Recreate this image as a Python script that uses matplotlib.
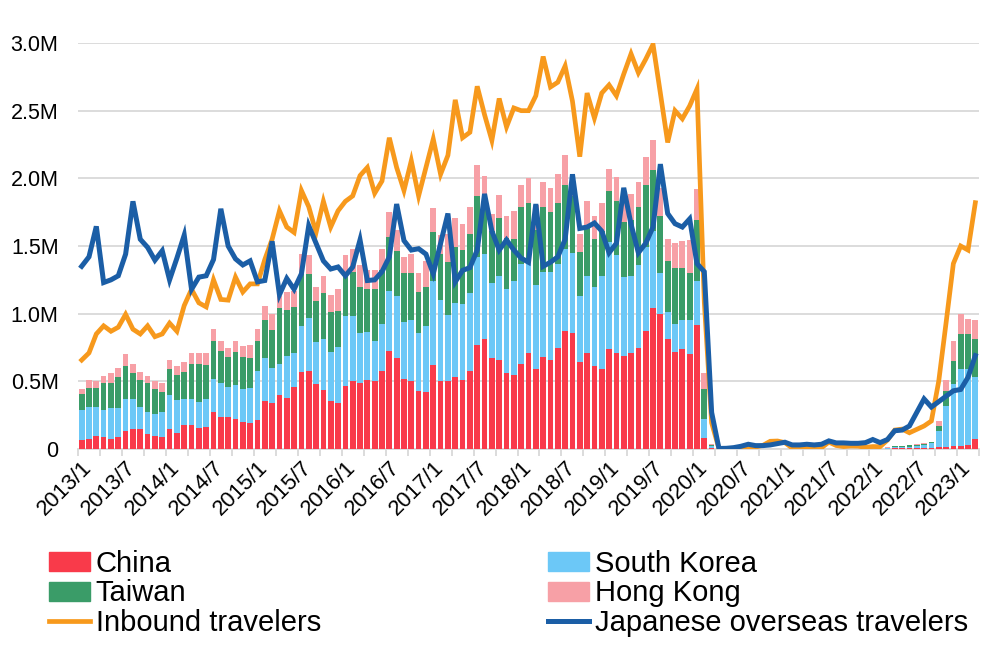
import matplotlib
matplotlib.use("Agg")
import matplotlib.pyplot as plt
from matplotlib.patches import Patch
from matplotlib.lines import Line2D
import numpy as np

plt.rcParams['font.family'] = ['Liberation Sans', 'DejaVu Sans']

# Monthly labels 2013/1 .. 2023/3
years = list(range(2013, 2024))
months = [f"{y}/{m}" for y in years for m in range(1, 13)][:123]

# Values in millions
china = [
    0.064, 0.074, 0.093, 0.088, 0.074, 0.088, 0.13, 0.15, 0.145, 0.11, 0.093, 0.088,
    0.147, 0.12, 0.174, 0.18, 0.154, 0.16, 0.27, 0.24, 0.235, 0.22, 0.20, 0.19,
    0.214, 0.354, 0.337, 0.40, 0.38, 0.46, 0.57, 0.58, 0.48, 0.435, 0.354, 0.34,
    0.464, 0.50, 0.49, 0.51, 0.50, 0.58, 0.725, 0.67, 0.52, 0.50, 0.43, 0.42,
    0.62, 0.50, 0.50, 0.53, 0.51, 0.58, 0.77, 0.81, 0.67, 0.66, 0.56, 0.55,
    0.63, 0.71, 0.59, 0.68, 0.66, 0.75, 0.87, 0.86, 0.64, 0.71, 0.61, 0.59,
    0.74, 0.71, 0.685, 0.71, 0.75, 0.87, 1.04, 0.995, 0.81, 0.72, 0.74, 0.70,
    0.915, 0.08, 0.005, 0.001, 0.001, 0.001, 0.001, 0.001, 0.001, 0.001, 0.001, 0.001,
    0.001, 0.001, 0.001, 0.001, 0.001, 0.001, 0.001, 0.001, 0.001, 0.001, 0.001, 0.001,
    0.001, 0.001, 0.002, 0.004, 0.005, 0.006, 0.007, 0.008, 0.01, 0.017, 0.017, 0.022,
    0.022, 0.03, 0.071,
]
south_korea = [
    0.226, 0.236, 0.217, 0.202, 0.226, 0.212, 0.24, 0.22, 0.165, 0.16, 0.167, 0.182,
    0.253, 0.24, 0.196, 0.19, 0.196, 0.21, 0.25, 0.25, 0.221, 0.25, 0.24, 0.26,
    0.366, 0.316, 0.263, 0.23, 0.31, 0.25, 0.34, 0.39, 0.31, 0.375, 0.366, 0.415,
    0.516, 0.48, 0.37, 0.355, 0.30, 0.34, 0.445, 0.46, 0.42, 0.45, 0.43, 0.49,
    0.625, 0.60, 0.49, 0.55, 0.56, 0.57, 0.65, 0.63, 0.56, 0.62, 0.62, 0.69,
    0.74, 0.665, 0.62, 0.63, 0.65, 0.62, 0.61, 0.59, 0.49, 0.57, 0.59, 0.685,
    0.79, 0.72, 0.585, 0.57, 0.61, 0.62, 0.57, 0.305, 0.20, 0.20, 0.21, 0.255,
    0.325, 0.14, 0.015, 0.001, 0.001, 0.001, 0.001, 0.001, 0.001, 0.001, 0.001, 0.001,
    0.001, 0.001, 0.001, 0.001, 0.001, 0.001, 0.001, 0.001, 0.001, 0.001, 0.001, 0.001,
    0.001, 0.001, 0.006, 0.012, 0.011, 0.012, 0.016, 0.024, 0.035, 0.118, 0.303, 0.458,
    0.568, 0.56, 0.459,
]
taiwan = [
    0.12, 0.14, 0.14, 0.20, 0.19, 0.23, 0.24, 0.19, 0.20, 0.215, 0.18, 0.15,
    0.19, 0.19, 0.20, 0.26, 0.28, 0.25, 0.28, 0.235, 0.224, 0.25, 0.24, 0.22,
    0.22, 0.28, 0.28, 0.41, 0.34, 0.34, 0.38, 0.32, 0.30, 0.34, 0.29, 0.265,
    0.295, 0.33, 0.34, 0.315, 0.38, 0.40, 0.40, 0.33, 0.36, 0.35, 0.30, 0.29,
    0.355, 0.34, 0.39, 0.41, 0.40, 0.435, 0.45, 0.42, 0.38, 0.425, 0.38, 0.31,
    0.42, 0.445, 0.41, 0.48, 0.44, 0.45, 0.47, 0.42, 0.325, 0.36, 0.35, 0.335,
    0.38, 0.405, 0.405, 0.41, 0.43, 0.46, 0.45, 0.42, 0.38, 0.42, 0.39, 0.345,
    0.45, 0.22, 0.01, 0.0005, 0.0005, 0.0005, 0.0005, 0.0005, 0.0005, 0.0005, 0.0005, 0.0005,
    0.0005, 0.0005, 0.0005, 0.0005, 0.0005, 0.0005, 0.0005, 0.0005, 0.0005, 0.0005, 0.0005, 0.0005,
    0.0005, 0.0005, 0.003, 0.006, 0.006, 0.008, 0.009, 0.006, 0.005, 0.035, 0.11, 0.17,
    0.26, 0.26, 0.28,
]
hong_kong = [
    0.03, 0.06, 0.05, 0.05, 0.07, 0.07, 0.09, 0.07, 0.06, 0.055, 0.06, 0.07,
    0.07, 0.065, 0.07, 0.08, 0.08, 0.09, 0.085, 0.075, 0.065, 0.08, 0.08, 0.10,
    0.085, 0.11, 0.12, 0.09, 0.13, 0.12, 0.15, 0.14, 0.11, 0.13, 0.13, 0.16,
    0.155, 0.17, 0.16, 0.14, 0.14, 0.16, 0.18, 0.16, 0.12, 0.14, 0.14, 0.19,
    0.18, 0.14, 0.21, 0.215, 0.19, 0.205, 0.23, 0.155, 0.13, 0.17, 0.16, 0.21,
    0.16, 0.18, 0.18, 0.18, 0.18, 0.21, 0.22, 0.16, 0.13, 0.19, 0.17, 0.21,
    0.16, 0.175, 0.185, 0.195, 0.18, 0.21, 0.225, 0.21, 0.16, 0.18, 0.20, 0.245,
    0.23, 0.12, 0.01, 0.0003, 0.0003, 0.0003, 0.0003, 0.0003, 0.0003, 0.0003, 0.0003, 0.0003,
    0.0003, 0.0003, 0.0003, 0.0003, 0.0003, 0.0003, 0.0003, 0.0003, 0.0003, 0.0003, 0.0003, 0.0003,
    0.0003, 0.0003, 0.001, 0.003, 0.003, 0.004, 0.005, 0.004, 0.004, 0.04, 0.08, 0.145,
    0.15, 0.11, 0.145,
]
inbound = [
    0.657, 0.71, 0.85, 0.91, 0.87, 0.90, 0.995, 0.885, 0.85, 0.91, 0.83, 0.85,
    0.93, 0.87, 1.06, 1.18, 1.08, 1.05, 1.25, 1.105, 1.10, 1.27, 1.16, 1.22,
    1.22, 1.40, 1.55, 1.76, 1.64, 1.60, 1.91, 1.79, 1.60, 1.83, 1.64, 1.76,
    1.83, 1.87, 2.02, 2.08, 1.89, 1.98, 2.30, 2.08, 1.91, 2.13, 1.87, 2.08,
    2.29, 2.03, 2.17, 2.58, 2.30, 2.34, 2.68, 2.47, 2.28, 2.59, 2.38, 2.52,
    2.50, 2.50, 2.61, 2.90, 2.675, 2.71, 2.83, 2.57, 2.16, 2.63, 2.445, 2.63,
    2.69, 2.61, 2.77, 2.92, 2.78, 2.88, 2.99, 2.63, 2.265, 2.50, 2.44, 2.535,
    2.66, 1.085, 0.194, 0.003, 0.002, 0.003, 0.004, 0.009, 0.014, 0.027, 0.057, 0.059,
    0.047, 0.007, 0.012, 0.011, 0.010, 0.009, 0.051, 0.026, 0.018, 0.022, 0.021, 0.012,
    0.018, 0.017, 0.066, 0.14, 0.147, 0.12, 0.145, 0.17, 0.207, 0.50, 0.93, 1.37,
    1.50, 1.47, 1.82,
]
overseas = [
    1.35, 1.42, 1.645, 1.23, 1.25, 1.28, 1.44, 1.83, 1.55, 1.49, 1.395, 1.465,
    1.25, 1.41, 1.58, 1.18, 1.27, 1.28, 1.40, 1.775, 1.50, 1.405, 1.36, 1.39,
    1.235, 1.245, 1.535, 1.14, 1.26, 1.18, 1.295, 1.65, 1.52, 1.39, 1.33, 1.345,
    1.28, 1.345, 1.545, 1.245, 1.25, 1.31, 1.42, 1.81, 1.54, 1.47, 1.48, 1.44,
    1.295, 1.52, 1.74, 1.235, 1.32, 1.34, 1.47, 1.885, 1.61, 1.47, 1.545, 1.47,
    1.41, 1.38, 1.81, 1.35, 1.38, 1.42, 1.55, 2.03, 1.63, 1.64, 1.67, 1.61,
    1.45, 1.52, 1.93, 1.66, 1.45, 1.52, 1.64, 2.105, 1.74, 1.665, 1.64, 1.70,
    1.37, 1.31, 0.27, 0.004, 0.005, 0.01, 0.02, 0.035, 0.025, 0.025, 0.03, 0.04,
    0.05, 0.03, 0.03, 0.035, 0.03, 0.035, 0.06, 0.045, 0.045, 0.042, 0.042, 0.047,
    0.07, 0.047, 0.07, 0.135, 0.14, 0.17, 0.27, 0.37, 0.31, 0.35, 0.39, 0.43,
    0.44, 0.53, 0.69,
]

series = [china, south_korea, taiwan, hong_kong, inbound, overseas]
assert all(len(s) == 123 for s in series), [len(s) for s in series]

col_china = '#F93A4A'
col_korea = '#6CC8F7'
col_taiwan = '#3A9C68'
col_hk = '#F7A0A6'
col_inbound = '#F7991C'
col_overseas = '#1B5EA6'

fig = plt.figure(figsize=(10.05, 6.5), dpi=100)
ax = fig.add_axes([78/1005, 1-449/650, (979-78)/1005, (449-43)/650])

x = np.arange(len(months))
c = np.array(china)
k = np.array(south_korea)
t = np.array(taiwan)
h = np.array(hong_kong)
w = 0.78
ax.bar(x, c, width=w, color=col_china, zorder=2)
ax.bar(x, k, width=w, bottom=c, color=col_korea, zorder=2)
ax.bar(x, t, width=w, bottom=c+k, color=col_taiwan, zorder=2)
ax.bar(x, h, width=w, bottom=c+k+t, color=col_hk, zorder=2)
ax.plot(x, inbound, color=col_inbound, lw=3.4, zorder=3, solid_joinstyle='miter')
ax.plot(x, overseas, color=col_overseas, lw=3.6, zorder=4, solid_joinstyle='miter')

ax.set_xlim(-0.5, len(months) - 0.5)
ax.set_ylim(0, 3.0)
yt = [0, 0.5, 1.0, 1.5, 2.0, 2.5, 3.0]
ax.set_yticks(yt)
ax.set_yticklabels(['0'] + [f"{v:.1f}M" for v in yt[1:]], fontsize=15.5)
ax.tick_params(axis='y', length=0, pad=14)
ax.grid(axis='y', color='#D9D9D9', lw=1.3, zorder=0)
ax.set_axisbelow(True)
for s in ['left', 'right', 'top']:
    ax.spines[s].set_visible(False)
ax.spines['bottom'].set_color('#D9D9D9')
ax.spines['bottom'].set_linewidth(1.3)
ax.spines['bottom'].set_zorder(1)

# tick marks at category boundaries every 3 months; labels every 6 months
ax.set_xticks(np.arange(-0.5, len(months), 3), minor=True)
ax.tick_params(axis='x', which='minor', length=5, color='#D9D9D9', width=1.3)
lab_idx = list(range(0, len(months), 6))
ax.set_xticks(lab_idx)
ax.set_xticklabels([months[i] for i in lab_idx], rotation=45, ha='right',
                   rotation_mode='anchor', fontsize=15.8)
ax.tick_params(axis='x', which='major', length=0, pad=6)

fs = 21
h1 = [Patch(color=col_china), Patch(color=col_taiwan),
      Line2D([], [], color=col_inbound, lw=3.4)]
l1 = ['China', 'Taiwan', 'Inbound travelers']
h2 = [Patch(color=col_korea), Patch(color=col_hk),
      Line2D([], [], color=col_overseas, lw=3.6)]
l2 = ['South Korea', 'Hong Kong', 'Japanese overseas travelers']
kw = dict(loc='upper left', frameon=False, fontsize=fs, handlelength=1.4,
          handleheight=0.62, handletextpad=0.2, labelspacing=0.05,
          borderaxespad=0, borderpad=0)
leg1 = fig.legend(h1, l1, bbox_to_anchor=(49/1005, 1-550/650), **kw)
leg2 = fig.legend(h2, l2, bbox_to_anchor=(548/1005, 1-550/650), **kw)

fig.savefig('out.png', dpi=100)
